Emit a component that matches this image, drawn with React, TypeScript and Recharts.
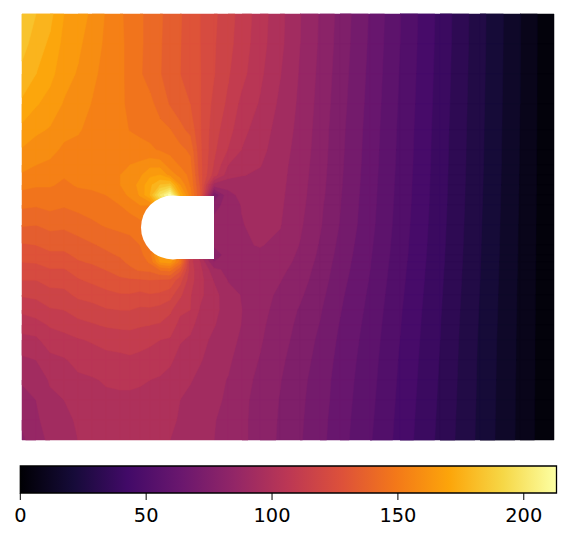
import React from 'react';
import {
  ScatterChart,
  Scatter,
  XAxis,
  YAxis,
  ReferenceArea,
  ComposedChart,
  Area
} from 'recharts';

// grid nodes, in picture pixels
const xNodes = [22, 36, 50, 64, 78, 92, 106, 120, 130, 140, 150, 160, 170, 180, 190, 200, 214, 228, 242, 260, 280, 300, 320, 340, 370, 400, 440, 480, 520, 554];
const yNodes = [14, 44, 74, 104, 130, 150, 165, 175, 185, 195, 205, 225, 245, 255, 262, 270, 280, 295, 310, 325, 340, 360, 380, 400, 420, 440];

// field values, one list per column of nodes
const col22 = [186, 182.4, 178.2, 172.8, 166.2, 161.4, 157.8, 155.4, 151.8, 148.2, 145.2, 138.6, 131.4, 128.4, 126, 123, 120, 114.6, 109.2, 104.4, 100.2, 94.8, 90.6, 88.2, 85.2, 82.8];
const col36 = [180, 177, 174, 168.6, 163.2, 159, 156, 153, 150.6, 147.6, 144.6, 138, 132, 129, 126.6, 123, 120, 115.2, 111, 105.6, 100.8, 96, 92.4, 90, 88.8, 87.6];
const col50 = [175.8, 172.8, 169.8, 165.6, 161.4, 157.8, 154.8, 152.4, 150.6, 147.6, 145.8, 139.8, 133.8, 130.8, 128.4, 125.4, 122.4, 117.6, 113.4, 108.6, 105, 100.2, 96.6, 94.8, 93, 91.2];
const col64 = [168, 166.2, 164.4, 161.4, 157.8, 154.8, 152.4, 150.6, 148.8, 147, 144.6, 139.2, 133.8, 130.8, 128.4, 125.4, 122.4, 118.2, 114, 109.8, 106.2, 101.4, 98.4, 96, 93.6, 93];
const col78 = [165, 163.2, 161.4, 159, 156.6, 154.2, 153, 151.8, 150.6, 148.2, 145.8, 141, 135.6, 133.2, 131.4, 128.4, 125.4, 121.2, 116.4, 112.2, 107.4, 103.8, 100.8, 99, 97.2, 96];
const col92 = [160.8, 159, 157.2, 155.7, 154.2, 153, 151.8, 151.2, 150.6, 149.4, 147, 142.8, 137.4, 134.4, 132.6, 130.2, 127.2, 122.4, 117.6, 113.4, 108.6, 105, 101.4, 100.2, 99, 97.8];
const col106 = [155.4, 154.8, 154.2, 153.6, 153, 152.4, 153, 152.7, 151.8, 150, 148.2, 144.6, 139.2, 136.8, 134.4, 132, 129, 124.2, 119.4, 114.6, 110.4, 105.6, 102.6, 100.8, 99.6, 98.4];
const col120 = [150.9, 151.2, 151.2, 151.2, 151.8, 153, 154.2, 155.9, 155.9, 153.6, 150, 145.2, 141.6, 138.6, 136.8, 134.4, 130.8, 125.4, 120, 115.2, 111, 106.2, 102.6, 101.4, 100.2, 99];
const col130 = [147.9, 148.2, 148.2, 148.5, 149.7, 153.6, 156, 158.4, 158.8, 157.2, 153, 145.8, 142.2, 140.4, 139.2, 136.8, 131.1, 125.4, 120, 115.2, 111.6, 106.8, 102.6, 101.4, 100.2, 99];
const col140 = [144.9, 144.9, 144.6, 147, 148.5, 152.4, 157.2, 160.8, 163.8, 162.6, 156, 147.6, 144, 142.2, 139.8, 138.6, 131.4, 124.2, 118.8, 114.6, 110.4, 106.2, 102.6, 100.8, 99.6, 98.4];
const col150 = [141.9, 141.9, 141.6, 145.5, 148.2, 150.9, 160.2, 166.5, 172.5, 174, 156, 150, 144, 147.6, 145.2, 139.2, 132, 125.4, 118.8, 114, 109.2, 105.6, 102, 100.2, 99, 97.8];
const col160 = [138.9, 138.6, 138.3, 141.6, 145.8, 149.4, 159.6, 168, 180, 198, 180, 156, 156, 168, 162, 144, 131.4, 124.8, 117.6, 113.4, 108, 104.4, 101.4, 99.6, 98.4, 97.2];
const col170 = [135.6, 135.3, 135.3, 137.4, 144.3, 148.2, 153, 159.6, 183, 213, 198, 162, 162, 171, 165, 145.8, 130.8, 122.4, 115.2, 111, 107.4, 103.2, 99.6, 98.4, 97.2, 96];
const col180 = [132.6, 132.3, 132, 134.4, 139.8, 145.8, 149.4, 153.6, 162, 174, 168, 156, 156, 150, 147.6, 133.8, 122.4, 115.2, 109.2, 106.2, 102.6, 99.6, 97.2, 96, 95.4, 94.8];
const col190 = [129, 129, 129, 132, 136.2, 142.8, 145.8, 148.2, 149.4, 153, 150, 132, 120, 114, 110.4, 111, 110.4, 108.6, 108, 103.8, 101.1, 98.4, 96.6, 94.2, 93, 93];
const col200 = [126, 126, 126.3, 126.3, 126.6, 127.2, 127.8, 128.4, 130.8, 132, 114, 102, 96, 96, 102, 103.8, 104.4, 103.2, 101.4, 99.6, 97.8, 96.6, 94.2, 92.4, 91.8, 91.2];
const col214 = [121.2, 120.6, 120.3, 118.2, 116.4, 115.2, 113.4, 111, 93, 72, 81, 87, 85.2, 79.2, 84, 91.8, 95.4, 98.4, 97.8, 96.3, 94.8, 93, 91.8, 91.2, 90.3, 90];
const col228 = [116.4, 115.8, 114.6, 112.8, 110.4, 107.7, 102, 98.4, 91.8, 88.2, 87, 88.2, 88.2, 87.6, 87, 88.2, 89.7, 91.8, 93, 93.6, 92.4, 91.2, 89.7, 89.1, 88.2, 87.6];
const col242 = [111.6, 111, 109.8, 106.2, 103.8, 101.7, 99, 96.3, 93, 91.5, 90.3, 89.7, 89.4, 88.2, 87.6, 87.6, 88.2, 89.7, 90, 89.7, 88.8, 87, 85.8, 85.2, 85.2, 85.2];
const col260 = [105, 104.4, 103.2, 101.4, 99, 97.8, 96.3, 95.1, 93.9, 93, 92.4, 91.8, 90.3, 89.1, 88.2, 87, 86.7, 86.4, 85.8, 85.2, 84.6, 83.7, 82.8, 82.2, 81.6, 81.6];
const col280 = [97.8, 97.5, 96.3, 94.8, 93.6, 92.7, 92.1, 91.8, 91.5, 91.2, 90.9, 90.3, 88.8, 87.6, 86.7, 85.5, 84.3, 82.8, 81.9, 81, 80.4, 79.2, 78.3, 77.7, 77.4, 77.1];
const col300 = [90.3, 90, 89.4, 88.8, 88.2, 87.6, 87, 86.7, 86.4, 86.1, 85.8, 84.9, 83.7, 82.8, 82.2, 81.3, 80.4, 78.9, 77.4, 76.5, 75.6, 74.7, 73.8, 73.2, 72.9, 72.6];
const col320 = [83.4, 83.1, 82.5, 81.9, 81.3, 81, 80.7, 80.4, 80.1, 79.8, 79.2, 78.6, 77.4, 76.8, 76.2, 75.6, 75, 73.8, 72.6, 71.7, 70.8, 69.9, 69, 68.7, 68.1, 67.8];
const col340 = [76, 75.6, 75, 74.4, 73.8, 73.5, 73.2, 73, 72.8, 72.5, 72.2, 71.7, 70.5, 69.9, 69.4, 68.9, 68.2, 67.2, 66.4, 65.6, 64.9, 64.1, 63.5, 63.1, 62.7, 62.4];
const col370 = [65.4, 65, 64.5, 64, 63.5, 63.2, 63, 62.8, 62.6, 62.4, 62.2, 61.8, 61, 60.6, 60.3, 60, 59.6, 58.9, 58.3, 57.7, 57.2, 56.6, 56.1, 55.6, 55.1, 54.6];
const col400 = [54.3, 54, 53.6, 53.2, 52.8, 52.6, 52.4, 52.2, 52, 51.9, 51.7, 51.3, 50.8, 50.6, 50.3, 50, 49.7, 49.2, 48.7, 48.3, 47.9, 47.4, 47, 46.6, 46.2, 45.9];
const col440 = [40.2, 40, 39.7, 39.4, 39.1, 38.9, 38.8, 38.7, 38.6, 38.5, 38.4, 38.1, 37.8, 37.6, 37.5, 37.3, 37.1, 36.8, 36.5, 36.2, 36, 35.7, 35.4, 35.1, 34.8, 34.5];
const col480 = [26.1, 26, 25.8, 25.6, 25.4, 25.3, 25.2, 25.1, 25, 24.9, 24.8, 24.6, 24.4, 24.3, 24.2, 24.1, 24, 23.8, 23.6, 23.4, 23.2, 23, 22.9, 22.8, 22.6, 22.5];
const col520 = [12.3, 12.2, 12.1, 12, 11.9, 11.8, 11.8, 11.7, 11.7, 11.6, 11.6, 11.4, 11.3, 11.3, 11.2, 11.2, 11.1, 11, 11, 10.9, 10.8, 10.8, 10.7, 10.6, 10.6, 10.5];
const col554 = [0, 0, 0, 0, 0, 0, 0, 0, 0, 0, 0, 0, 0, 0, 0, 0, 0, 0, 0, 0, 0, 0, 0, 0, 0, 0];

const columns = [col22, col36, col50, col64, col78, col92, col106, col120, col130, col140, col150, col160, col170, col180, col190, col200, col214, col228, col242, col260, col280, col300, col320, col340, col370, col400, col440, col480, col520, col554];

const VMAX = 213;
const LEVEL_STEP = 6;
const colorbarTicks = [0, 50, 100, 150, 200];
const inferno = ['#000004', '#160b39', '#420a68', '#6a176e', '#932667', '#bc3754', '#dd513a', '#f37819', '#fca50a', '#f6d746', '#fcffa4'];

// the white obstacle: a square end and a round end
const holeRect = [{ x: 173, y: 196, w: 41, h: 63 }];
const holeRound = [{ x: 173, y: 227.5, r: 32 }];

const PLOT_W = 532;
const PLOT_H = 426;
const pxX = PLOT_W / (554 - 22);
const pxY = PLOT_H / (440 - 14);

const hex = (s: string) => [1, 3, 5].map((i) => parseInt(s.slice(i, i + 2), 16));

const colormap = (t: number) => {
  const p = Math.min(Math.max(t, 0), 1) * (inferno.length - 1);
  const i = Math.min(Math.floor(p), inferno.length - 2);
  const a = hex(inferno[i]);
  const b = hex(inferno[i + 1]);
  const c = a.map((v, k) => Math.round(v + (b[k] - v) * (p - i)));
  return `rgb(${c[0]},${c[1]},${c[2]})`;
};

const levelColor = (k: number) => colormap(((k + 0.5) * LEVEL_STEP) / VMAX);

// one record per grid cell, with the four corner values
const cells: any[] = [];
for (let i = 0; i < xNodes.length - 1; i++) {
  for (let j = 0; j < yNodes.length - 1; j++) {
    const v = [columns[i][j], columns[i + 1][j], columns[i + 1][j + 1], columns[i][j + 1]];
    cells.push({
      x: xNodes[i],
      y: yNodes[j],
      w: xNodes[i + 1] - xNodes[i],
      h: yNodes[j + 1] - yNodes[j],
      v,
      lo: Math.floor(Math.min(...v) / LEVEL_STEP),
      hi: Math.floor(Math.max(...v) / LEVEL_STEP)
    });
  }
}

const levels: number[] = [];
for (let k = 0; k * LEVEL_STEP < VMAX; k++) levels.push(k);

type Corner = { x: number; y: number; v: number };

const clipAbove = (pts: Corner[], level: number) => {
  const out: Corner[] = [];
  pts.forEach((a, i) => {
    const b = pts[(i + 1) % pts.length];
    if (a.v >= level) out.push(a);
    if (a.v >= level !== b.v >= level) {
      const t = (level - a.v) / (b.v - a.v);
      out.push({ x: a.x + (b.x - a.x) * t, y: a.y + (b.y - a.y) * t, v: level });
    }
  });
  return out;
};

// part of a cell that lies at or above contour level k
const levelShape = (k: number) => (props: any) => {
  const { cx, cy, payload } = props;
  const w = payload.w * pxX;
  const h = payload.h * pxY;
  const [a, b, c, d] = payload.v;
  const pts: Corner[] = [
    { x: cx, y: cy, v: a },
    { x: cx + w, y: cy, v: b },
    { x: cx + w, y: cy + h, v: c },
    { x: cx, y: cy + h, v: d }
  ];
  const poly = k === payload.lo ? pts : clipAbove(pts, k * LEVEL_STEP);
  if (poly.length < 3) return <g />;
  const color = levelColor(k);
  return <polygon points={poly.map((p) => `${p.x},${p.y}`).join(' ')} fill={color} stroke={color} strokeWidth={0.5} />;
};

const HoleRectShape = (props: any) => {
  const { cx, cy, payload } = props;
  return <rect x={cx} y={cy} width={payload.w * pxX} height={payload.h * pxY} fill="#fff" />;
};

const HoleRoundShape = (props: any) => {
  const { cx, cy, payload } = props;
  return <circle cx={cx} cy={cy} r={payload.r * pxX} fill="#fff" />;
};

const colorbarData = [
  { value: 0, band: 1 },
  { value: VMAX, band: 1 }
];

const fontFamily = '"DejaVu Sans", sans-serif';

export default function App() {
  return (
    <div style={{ position: 'absolute', left: 0, top: 0, width: 570, height: 541, background: '#fff' }}>
      <ScatterChart width={570} height={445} margin={{ top: 14, right: 16, bottom: 5, left: 22 }}>
        <XAxis type="number" dataKey="x" domain={[22, 554]} hide />
        <YAxis type="number" dataKey="y" domain={[14, 440]} reversed hide />
        {levels.map((k) => (
          <Scatter
            key={k}
            data={cells.filter((c) => c.lo <= k && c.hi >= k)}
            shape={levelShape(k)}
            isAnimationActive={false}
          />
        ))}
        <Scatter data={holeRound} shape={HoleRoundShape} isAnimationActive={false} />
        <Scatter data={holeRect} shape={HoleRectShape} isAnimationActive={false} />
      </ScatterChart>
      <div style={{ position: 'absolute', left: 0, top: 455 }}>
        <ComposedChart width={570} height={86} data={colorbarData} margin={{ top: 11, right: 13.5, bottom: 0, left: 20.3 }}>
          <defs>
            <linearGradient id="infernoBar" x1="0" y1="0" x2="1" y2="0">
              {inferno.map((c, i) => (
                <stop key={c} offset={i / (inferno.length - 1)} stopColor={c} />
              ))}
            </linearGradient>
          </defs>
          <XAxis
            type="number"
            dataKey="value"
            domain={[0, VMAX]}
            ticks={colorbarTicks}
            height={48}
            tickSize={7}
            tickMargin={8}
            axisLine={false}
            tickLine={{ stroke: '#000', strokeWidth: 1 }}
            tick={{ fontSize: 19.4, fontFamily, fill: '#000' }}
            interval={0}
          />
          <YAxis type="number" domain={[0, 1]} hide />
          <Area dataKey="band" type="linear" fill="url(#infernoBar)" fillOpacity={1} stroke="none" isAnimationActive={false} />
          <ReferenceArea x1={0} x2={VMAX} y1={0} y2={1} fill="none" stroke="#000" strokeWidth={1.3} isFront />
        </ComposedChart>
      </div>
    </div>
  );
}
